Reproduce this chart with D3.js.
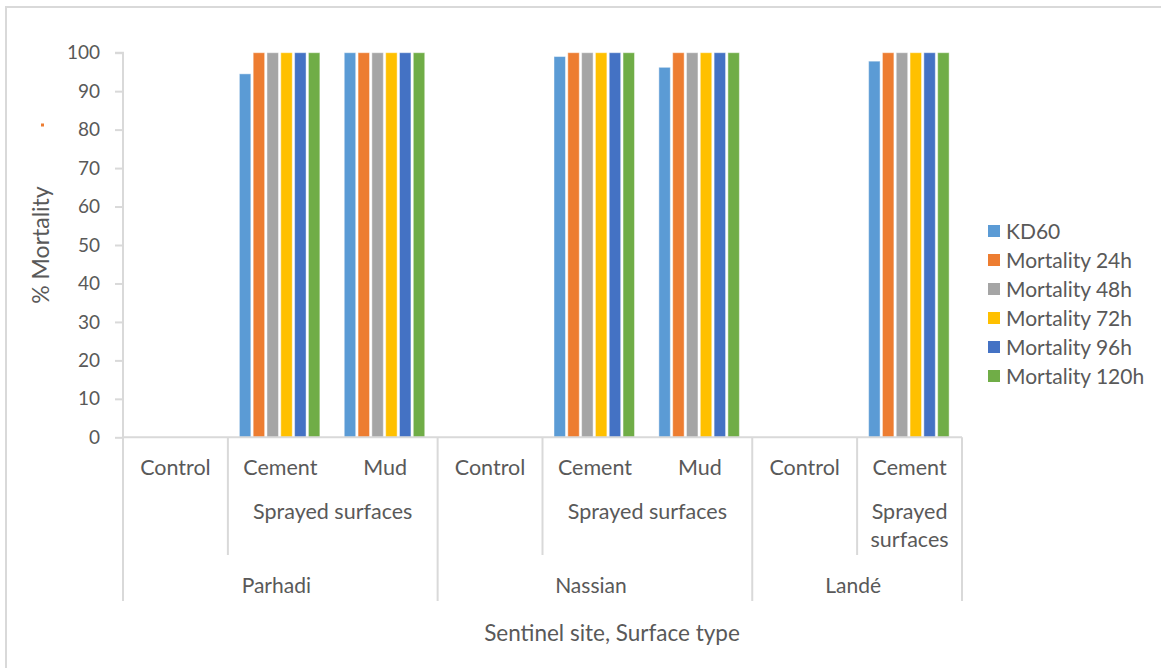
<!DOCTYPE html>
<html>
<head>
<meta charset="utf-8">
<script src="https://cdn.jsdelivr.net/npm/d3@7"></script>
<style>
  body { margin: 0; background: #fff; }
  svg { display: block; font-family: Lato, "Open Sans", sans-serif; }
  text { fill: #595959; }
</style>
</head>
<body>
<svg id="chart" width="1161" height="668"></svg>
<script>
// Sites and the surface types tested at each
const sites = ["Parhadi", "Nassian", "Landé"];
const categories = [
  "Parhadi|Control", "Parhadi|Cement", "Parhadi|Mud",
  "Nassian|Control", "Nassian|Cement", "Nassian|Mud",
  "Landé|Control", "Landé|Cement"
];
const surfaceLabels = ["Control", "Cement", "Mud", "Control", "Cement", "Mud", "Control", "Cement"];
const series = ["KD60", "Mortality 24h", "Mortality 48h", "Mortality 72h", "Mortality 96h", "Mortality 120h"];
const colors = ["#5B9BD5", "#ED7D31", "#A5A5A5", "#FFC000", "#4472C4", "#70AD47"];

// % mortality per category, one array per series (controls have no bars)
const kd60   = [0, 94.5, 100, 0, 99, 96.2, 0, 97.8];
const mort24 = [0, 100, 100, 0, 100, 100, 0, 100];
const mort48 = [0, 100, 100, 0, 100, 100, 0, 100];
const mort72 = [0, 100, 100, 0, 100, 100, 0, 100];
const mort96 = [0, 100, 100, 0, 100, 100, 0, 100];
const mort120 = [0, 100, 100, 0, 100, 100, 0, 100];
const seriesValues = [kd60, mort24, mort48, mort72, mort96, mort120];
const yTicks = [0, 10, 20, 30, 40, 50, 60, 70, 80, 90, 100];

const svg = d3.select("#chart");
const axisColor = "#d9d9d9";

// outer chart frame
svg.append("rect")
  .attr("x", 6).attr("y", 7).attr("width", 1170).attr("height", 680)
  .attr("fill", "none").attr("stroke", axisColor).attr("stroke-width", 2);

const plot = { left: 123, right: 962, top: 52.7, bottom: 437.3 };

const x0 = d3.scaleBand().domain(categories).range([plot.left, plot.right]).padding(0);
const x1 = d3.scaleBand().domain(series).range([11.5, 92]).paddingInner(0.17).paddingOuter(0);
const y = d3.scaleLinear().domain([0, 100]).range([plot.bottom, plot.top]);

// bars
const rows = [];
categories.forEach((c, i) => {
  series.forEach((s, j) => {
    const v = seriesValues[j][i];
    if (v > 0) rows.push({ c, s, v, color: colors[j] });
  });
});
svg.append("g").selectAll("rect").data(rows).join("rect")
  .attr("x", d => x0(d.c) + x1(d.s))
  .attr("y", d => y(d.v))
  .attr("width", x1.bandwidth())
  .attr("height", d => y(0) - y(d.v))
  .attr("fill", d => d.color)
  .attr("stroke", "rgba(255,255,255,0.45)")
  .attr("stroke-width", 1);

// y axis
const yAxis = svg.append("g")
  .attr("transform", `translate(${plot.left},0)`)
  .call(d3.axisLeft(y).tickValues(yTicks).tickSize(8).tickPadding(15));
yAxis.select(".domain").attr("stroke", axisColor).attr("stroke-width", 2)
  .attr("d", `M-8,${plot.top}H0V${plot.bottom}`);
yAxis.selectAll(".tick line").attr("stroke", axisColor).attr("stroke-width", 2);
yAxis.selectAll(".tick text")
  .attr("fill", "#595959").style("font-size", "19px").style("font-family", "Lato, sans-serif");

// x axis baseline
svg.append("line")
  .attr("x1", plot.left).attr("x2", plot.right)
  .attr("y1", plot.bottom).attr("y2", plot.bottom)
  .attr("stroke", axisColor).attr("stroke-width", 2);

// group divider lines of the multi-level category axis
const siteEdges = [categories[0], categories[3], categories[6]].map(c => x0(c)).concat([plot.right]);
siteEdges.forEach(xp => {
  svg.append("line").attr("x1", xp).attr("x2", xp)
    .attr("y1", plot.bottom).attr("y2", 601)
    .attr("stroke", axisColor).attr("stroke-width", 2);
});
[categories[1], categories[4], categories[7]].forEach(c => {
  const xp = x0(c);
  svg.append("line").attr("x1", xp).attr("x2", xp)
    .attr("y1", plot.bottom).attr("y2", 555)
    .attr("stroke", axisColor).attr("stroke-width", 2);
});

const catFont = "21.5px";

// surface labels
svg.append("g").selectAll("text").data(categories).join("text")
  .attr("x", c => x0(c) + x0.bandwidth() / 2)
  .attr("y", 475)
  .attr("text-anchor", "middle")
  .style("font-size", catFont)
  .text((c, i) => surfaceLabels[i]);

// "Sprayed surfaces" group labels
const sprayed = [[categories[1], categories[2]], [categories[4], categories[5]]];
sprayed.forEach(([a, b]) => {
  svg.append("text")
    .attr("x", (x0(a) + x0(b) + x0.bandwidth()) / 2)
    .attr("y", 519)
    .attr("text-anchor", "middle")
    .style("font-size", catFont)
    .text("Sprayed surfaces");
});
const landeCement = x0(categories[7]) + x0.bandwidth() / 2;
svg.append("text").attr("x", landeCement).attr("y", 519)
  .attr("text-anchor", "middle").style("font-size", catFont).text("Sprayed");
svg.append("text").attr("x", landeCement).attr("y", 547)
  .attr("text-anchor", "middle").style("font-size", catFont).text("surfaces");

// site labels
const siteRanges = [[0, 2], [3, 5], [6, 7]];
sites.forEach((s, i) => {
  const [a, b] = siteRanges[i];
  svg.append("text")
    .attr("x", (x0(categories[a]) + x0(categories[b]) + x0.bandwidth()) / 2 - 4)
    .attr("y", 593)
    .attr("text-anchor", "middle")
    .style("font-size", "21px")
    .text(s);
});

// axis titles
svg.append("text")
  .attr("x", 612).attr("y", 641)
  .attr("text-anchor", "middle")
  .style("font-size", "22.5px")
  .text("Sentinel site, Surface type");
svg.append("text")
  .attr("transform", `translate(49,${(plot.top + plot.bottom) / 2}) rotate(-90)`)
  .attr("text-anchor", "middle")
  .style("font-size", "23px")
  .text("% Mortality");

// small stray marker near the axis title
svg.append("rect").attr("x", 41).attr("y", 123.5).attr("width", 3).attr("height", 3).attr("fill", "#ED7D31");

// legend
const legend = svg.append("g").attr("transform", "translate(988,0)");
series.forEach((s, i) => {
  const cy = 231 + i * 29;
  legend.append("rect").attr("x", 0).attr("y", cy - 6).attr("width", 12).attr("height", 12).attr("fill", colors[i]);
  legend.append("text").attr("x", 18).attr("y", cy + 7.5).style("font-size", "21px").text(s);
});
</script>
</body>
</html>
